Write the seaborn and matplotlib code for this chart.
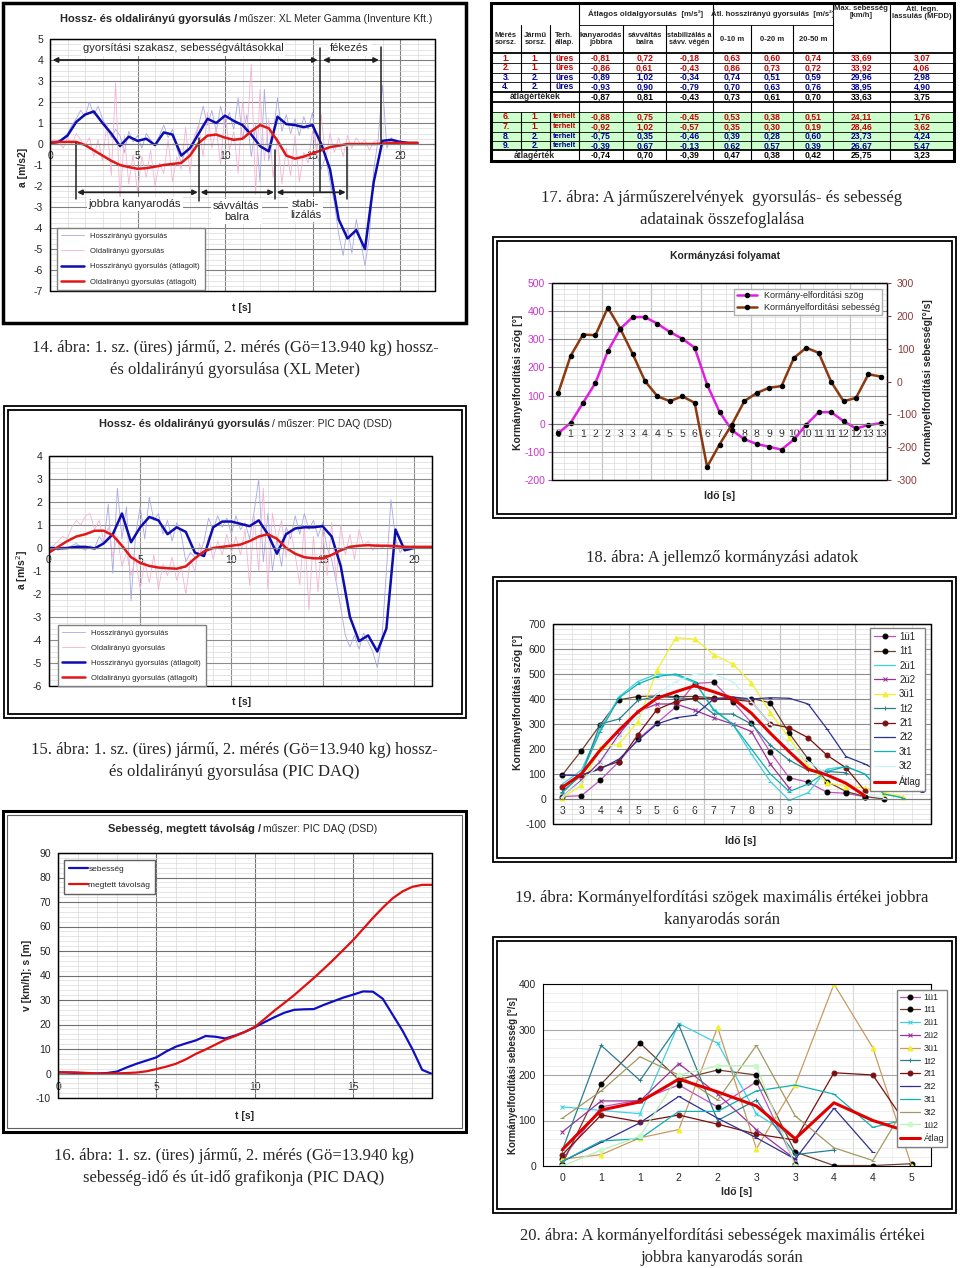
import numpy as np
import matplotlib
matplotlib.use('Agg')
import matplotlib.pyplot as plt
import seaborn as sns
from matplotlib.patches import Rectangle
from matplotlib.ticker import MultipleLocator

# --- adatok ---
# 14. ábra: XL Meter, 0.5 s-os simított görbék és 0.25 s-os nyers jelek
xl_long_avg = [0.05, 0.1, 0.4, 1.05, 1.4, 1.55, 1.0, 0.5, -0.1, 0.35, 0.15, 0.25, -0.05, 0.55, 0.45,
               -0.55, -0.2, 0.5, 1.2, 1.0, 1.35, 1.1, 0.9, 0.45, -0.1, -0.35, 1.3, 0.95, 0.9, 0.8,
               0.9, 0.0, -1.2, -3.6, -4.5, -4.1, -5.0, -1.8, 0.15, 0.2, 0.1, 0.05, 0.05]
xl_lat_avg = [0.05, 0.1, 0.1, 0.1, -0.05, -0.3, -0.55, -0.8, -1.0, -1.1, -1.18, -1.15, -1.08, -1.0,
              -0.95, -0.9, -0.55, 0.05, 0.4, 0.45, 0.3, 0.2, 0.25, 0.6, 0.9, 0.75, 0.15, -0.55, -0.7,
              -0.6, -0.45, -0.3, -0.15, -0.08, 0.0, 0.0, 0.0, 0.0, 0.02, 0.05, 0.05, 0.05, 0.05]
xl_long_raw = [0.1, 0.2, 0.1, 0.3, 0.5, 0.9, 1.2, 1.6, 1.3,
               2.0, 1.4, 1.8, 1.2, 0.8, 0.3, 0.7, 0.4,
               -0.4, 0.6, 0.1, 0.4, -0.2, 0.5, 0.2, -0.1,
               0.4, 0.9, 0.3, 0.7, -0.2, -0.9, -0.3, -0.6,
               0.1, 0.9, 1.8, 0.9, 1.6, 0.6, 1.8, 0.9,
               1.5, 0.7, 2.2, 0.2, 1.4, -0.6, 0.9, -1.8,
               2.6, -0.8, 0.4, 2.2, 0.6, 1.4, 0.5, 1.2,
               0.4, 1.3, 0.7, 1.5, -0.5, -1.2, -0.6, -1.8,
               -2.8, -4.3, -5.3, -4.0, -5.2, -3.6, -4.6, -5.8,
               -4.4, -1.2, 0.2, 2.8, -0.2, 0.3, 0.1, 0.0]
xl_lat_raw = [0.0, 0.1, 0.2, -0.2, 0.3, 0.0, 0.5, 0.2, -0.1,
              0.3, -0.6, 0.2, -0.8, 1.0, -1.5, 2.9, -2.8,
              0.4, -1.9, -0.5, -2.3, -0.6, -1.6, -0.3, -2.0,
              -0.9, -1.4, 0.2, -1.8, -0.6, -1.2, 0.8, -1.4,
              0.4, 0.9, -0.6, 1.5, -0.2, 0.8, -1.0, 1.6,
              -0.3, 0.6, -1.4, 2.0, 0.4, 3.8, -2.4, 2.6,
              -0.8, 1.2, -1.6, 0.3, -1.9, -0.2, -1.5, 0.4,
              -1.8, -0.4, -0.9, 0.6, -0.3, 1.4, -0.8, 0.5,
              -0.4, 0.3, -0.6, 0.4, -0.2, 0.3, 0.0, 0.2,
              -0.3, 0.1, 0.2, -0.1, 0.1, 0.0, 0.1, 0.0]

# 15. ábra: PIC DAQ
pic_long_avg = [0.0, -0.02, 0.0, 0.05, 0.05, -0.02, 0.2, 0.6, 1.5, 0.25, 0.9, 1.35, 1.2, 0.6, 0.9,
                0.7, -0.2, -0.35, 0.9, 1.15, 1.15, 1.05, 0.95, 1.2, 0.6, -0.25, 0.6, 0.85, 0.9, 0.9,
                0.95, 0.5, -0.8, -3.0, -4.05, -3.8, -4.5, -3.5, 0.8, -0.1, 0.0]
pic_lat_avg = [-0.2, 0.05, 0.3, 0.5, 0.6, 0.75, 0.75, 0.55, 0.1, -0.4, -0.65, -0.78, -0.85, -0.88,
               -0.9, -0.8, -0.45, -0.15, 0.0, 0.05, 0.1, 0.15, 0.3, 0.5, 0.6, 0.4, 0.0, -0.25, -0.4,
               -0.45, -0.45, -0.3, -0.1, 0.05, 0.1, 0.12, 0.1, 0.1, 0.08, 0.05, 0.05, 0.05, 0.05]
pic_long_raw = [0.0, 0.1, -0.1, 0.05, 0.0, 0.1, 0.2, 0.0, -0.1,
                0.1, 0.0, 0.5, 0.2, 1.9, -1.1, 2.6, 0.4,
                1.8, -2.3, 0.6, 1.8, 0.4, 2.2, 1.2, 1.5,
                0.6, 1.2, 0.3, 1.1, 0.6, -0.6, -0.2, -0.4,
                -0.3, 0.3, 1.3, 0.8, 1.4, 0.9, 1.3, 0.6,
                1.4, 0.8, 1.1, 0.4, 1.6, 3.0, -0.6, 1.5,
                -1.0, 0.4, -0.8, 0.9, 0.4, 1.4, 0.6, 1.5,
                0.8, 1.2, 0.5, 1.1, 0.0, -0.5, -1.5, -2.6,
                -3.8, -4.3, -3.8, -4.4, -3.7, -4.1, -4.5, -5.2,
                -4.0, -1.0, 2.1, 0.4, -0.2, 0.1, -0.1, 0.0]
pic_lat_raw = [-0.2, 0.1, 0.3, 0.5, 0.4, 0.9, 1.2, 1.0, 1.4,
               1.5, 0.8, 1.2, 0.3, 0.9, -0.4, 0.5, -0.8,
               -0.2, -1.2, -0.4, -1.8, -0.6, -1.5, -0.3, -1.8,
               -0.7, -1.2, -0.4, -1.4, -0.8, -2.0, -0.5, -1.0,
               0.2, -0.4, 0.5, -0.5, 0.3, -0.3, 0.6, -0.2,
               0.5, -0.3, 0.8, -1.6, 1.4, -1.0, 2.6, -1.8,
               1.5, 0.3, 1.2, -0.4, 0.8, -0.3, -1.6, 1.0,
               -2.7, 0.5, -1.9, 0.8, -1.2, 1.1, -1.4, 1.0,
               -0.3, 0.6, -0.5, 0.8, 0.1, 0.3, -0.1, 0.2,
               0.0, 0.1, 0.0, 0.1, 0.0, 0.1, 0.0, 0.1]

# 16. ábra: sebesség és megtett távolság (0.5 s-onként)
speed = [0.5, 0.4, 0.2, 0.1, 0.0, 0.2, 0.8, 2.5, 4.0, 5.3, 6.6, 9.0, 11.0, 12.3, 13.5, 15.3, 15.0,
         14.3, 15.5, 17.0, 18.9, 21.0, 23.0, 24.8, 26.0, 26.2, 26.3, 28.0, 29.5, 31.0, 32.2, 33.5,
         33.4, 30.5, 24.0, 17.5, 10.0, 1.5, -0.2]
distance = [0.5, 0.5, 0.4, 0.2, 0.0, 0.0, 0.05, 0.2, 0.4, 0.9, 1.8, 2.8, 4.0, 5.8, 8.0, 9.8, 11.8,
            13.8, 15.3, 17.0, 19.0, 22.3, 25.7, 28.8, 32.0, 35.5, 39.0, 42.7, 46.5, 50.5, 54.5, 59.0,
            63.5, 67.7, 71.5, 74.3, 76.2, 77.0, 77.0]

# 17. ábra: táblázat
tab_rows = [
    ['1.', '1.', 'üres', '-0,81', '0,72', '-0,18', '0,63', '0,60', '0,74', '33,69', '3,07'],
    ['2.', '1.', 'üres', '-0,86', '0,61', '-0,43', '0,86', '0,73', '0,72', '33,92', '4,06'],
    ['3.', '2.', 'üres', '-0,89', '1,02', '-0,34', '0,74', '0,51', '0,59', '29,96', '2,98'],
    ['4.', '2.', 'üres', '-0,93', '0,90', '-0,79', '0,70', '0,63', '0,76', '38,95', '4,90'],
    ['átlagértékek', '', '', '-0,87', '0,81', '-0,43', '0,73', '0,61', '0,70', '33,63', '3,75'],
    ['', '', '', '', '', '', '', '', '', '', ''],
    ['6.', '1.', 'terhelt', '-0,88', '0,75', '-0,45', '0,53', '0,38', '0,51', '24,11', '1,76'],
    ['7.', '1.', 'terhelt', '-0,92', '1,02', '-0,57', '0,35', '0,30', '0,19', '28,46', '3,62'],
    ['8.', '2.', 'terhelt', '-0,75', '0,35', '-0,46', '0,39', '0,28', '0,60', '23,73', '4,24'],
    ['9.', '2.', 'terhelt', '-0,39', '0,67', '-0,13', '0,62', '0,57', '0,39', '26,67', '5,47'],
    ['átlagérték', '', '', '-0,74', '0,70', '-0,39', '0,47', '0,38', '0,42', '25,75', '3,23'],
]
tab_colors = ['#cc0000', '#cc0000', '#000099', '#000099', 'black', 'black',
              '#cc0000', '#cc0000', '#000099', '#000099', 'black']
tab_head2 = ['Mérés\nsorsz.', 'Jármű\nsorsz.', 'Terh.\nállap.', 'kanyarodás\njobbra', 'sávváltás\nbalra',
             'stabilizálás a\nsávv. végén', '0-10 m', '0-20 m', '20-50 m', '', '']

# 18. ábra: kormányzási folyamat
p18_labels = ['0', '1', '1', '2', '2', '3', '3', '4', '4', '5', '5', '6', '6', '7', '7', '8', '8', '9',
              '9', '10', '10', '11', '11', '12', '12', '13', '13']
steer_angle = [-34, 3, 74, 145, 258, 337, 379, 379, 355, 326, 302, 270, 139, 42, -23, -55, -72, -82,
               -92, -56, -3, 41, 41, 9, -17, -5, 2]
steer_rate = [-35, 78, 143, 141, 225, 161, 84, 1, -45, -60, -45, -65, -260, -192, -131, -60, -35,
              -19, -14, 72, 103, 87, -1, -60, -50, 22, 15]

# 19. ábra: kormányelfordítási szögek
p19_labels = ['3', '3', '4', '4', '5', '5', '6', '6', '7', '7', '8', '8', '9', '', '', '', '', '', '', '']
ang_1u1 = [10, 13, 75, 150, 240, 304, 368, 462, 467, 390, 305, 187, 85, 67, 27, 23, 9]
ang_1t1 = [97, 193, 297, 397, 410, 412, 410, 410, 405, 400, 402, 385, 263, 160, 70, 30, 10, 0]
ang_2u1 = [60, 115, 280, 410, 470, 500, 495, 465, 360, 300, 180, 70, -5, 25, 120, 130, 100, 20, 5]
ang_2u2 = [10, 75, 150, 260, 350, 380, 380, 355, 325, 300, 270, 140, 43]
ang_3u1 = [5, 55, 205, 220, 310, 515, 645, 640, 578, 540, 465, 345, 245, 130, 65, 50, 45, 25, 10]
ang_1t2 = [30, 95, 300, 320, 395, 410, 405, 400, 340, 340, 300, 215, 155, 115, 110, 105]
ang_2t1 = [47, 95, 125, 150, 258, 358, 390, 403, 400, 398, 390, 300, 285, 245, 175, 125, 33]
ang_2t2 = [95, 95, 120, 160, 235, 300, 325, 335, 400, 408, 400, 405, 403, 380, 280, 170, 140, 100, 60, 30]
ang_3t1 = [25, 100, 270, 405, 460, 490, 500, 470, 355, 300, 200, 100, 30, 60, 110, 130, 100, 20, 5]
ang_3t2 = [10, 70, 140, 250, 330, 420, 470, 500, 500, 470, 390, 300, 220, 150, 100, 60, 20, 5]
ang_avg = [47, 100, 196, 276, 349, 403, 429, 453, 429, 403, 343, 263, 189, 119, 96, 63, 13]

# 20. ábra: kormányelfordítási sebességek
p20_labels = ['0', '1', '1', '2', '2', '3', '3', '4', '4', '5']
rate_1u1 = [15, 130, 145, 178, 130, 185, 5]
rate_1t1 = [5, 180, 270, 190, 211, 200, 31, 1, 1, 5]
rate_2u1 = [130, 122, 115, 313, 270, 115, 60]
rate_2u2 = [75, 143, 143, 225, 158, 80, 15]
rate_3u1 = [15, 25, 62, 80, 305, 38, 178, 400, 260, 0]
rate_1t2 = [35, 265, 188, 310, 100, 145, 25, 35]
rate_2t1 = [25, 112, 97, 112, 92, 70, 57, 205, 200, 75]
rate_2t2 = [10, 52, 95, 153, 105, 62, 15, 127, 30]
rate_3t1 = [10, 55, 60, 120, 120, 165, 178, 158, 85, 105]
rate_3t2 = [105, 165, 240, 200, 145, 265, 110, 40, 12, 155]
rate_1u2 = [0, 35, 65, 200, 220, 220, 0]
rate_avg = [36, 123, 141, 191, 163, 132, 60, 139, 100, 73]

# --- megjelenés ---
sns.set_style('white')
plt.rcParams['font.family'] = ['Liberation Sans', 'DejaVu Sans']
plt.rcParams['axes.unicode_minus'] = False

W, H = 960, 1268
fig = plt.figure(figsize=(9.6, 12.68), dpi=100)
SERIF = ['Liberation Serif', 'DejaVu Serif']


def box(x0, y0, x1, y1):
    return [x0 / W, 1 - y1 / H, (x1 - x0) / W, (y1 - y0) / H]


def frame(x0, y0, x1, y1, lw=1.5, ec='black'):
    fig.patches.append(Rectangle((x0 / W, 1 - y1 / H), (x1 - x0) / W, (y1 - y0) / H,
                                 transform=fig.transFigure, fill=False, lw=lw, ec=ec))


def ftext(x, y, s, **kw):
    fig.text(x / W, 1 - y / H, s, **kw)


def caption(xc, y, lines):
    for i, s in enumerate(lines):
        ftext(xc, y + 22 * i, s, family=SERIF, fontsize=12, ha='center', va='center')


def grid(ax, xmaj, xmin, ymaj, ymin, majc='#8c8c8c', minc='#dadada'):
    ax.xaxis.set_major_locator(MultipleLocator(xmaj))
    ax.xaxis.set_minor_locator(MultipleLocator(xmin))
    ax.yaxis.set_major_locator(MultipleLocator(ymaj))
    ax.yaxis.set_minor_locator(MultipleLocator(ymin))
    ax.grid(which='major', color=majc, lw=0.8)
    ax.grid(which='minor', color=minc, lw=0.5)
    ax.set_axisbelow(True)
    ax.tick_params(which='minor', length=0)
    ax.tick_params(labelsize=7.5, length=3, width=0.8, direction='out', pad=2)


def zero_axis(ax, pad=5):
    ax.spines['bottom'].set_position(('data', 0))
    ax.spines['bottom'].set_color('#7a7a7a')
    ax.tick_params(axis='x', length=0, pad=pad)
    ax.add_patch(Rectangle((0, 0), 1, 1, transform=ax.transAxes, fill=False, ec='black',
                           lw=1.0, clip_on=False, zorder=5))


def line(ax, x, y, **kw):
    sns.lineplot(x=x, y=y, ax=ax, estimator=None, sort=False, **kw)


def title2(xsplit, y, bold, normal, size=8):
    ftext(xsplit, y, bold, fontsize=size, fontweight='bold', ha='right', va='center')
    ftext(xsplit + 2, y, normal, fontsize=size - 0.5, ha='left', va='center')


LONG_RAW, LAT_RAW = '#a9a9e3', '#f4b3d3'
BLUE, RED = '#0c0cb0', '#e01818'

# ================= 14. ábra =================
frame(3, 3, 466, 323, lw=2.5)
ax = fig.add_axes(box(50, 39, 435, 291))
line(ax, np.arange(len(xl_long_raw)) * 0.25, xl_long_raw, color=LONG_RAW, lw=0.6, label='Hosszirányú gyorsulás')
line(ax, np.arange(len(xl_lat_raw)) * 0.25, xl_lat_raw, color=LAT_RAW, lw=0.6, label='Oldalirányú gyorsulás')
line(ax, np.arange(len(xl_long_avg)) * 0.5, xl_long_avg, color=BLUE, lw=1.8, label='Hosszirányú gyorsulás (átlagolt)')
line(ax, np.arange(len(xl_lat_avg)) * 0.5, xl_lat_avg, color=RED, lw=1.8, label='Oldalirányú gyorsulás (átlagolt)')
ax.set_xlim(0, 22)
ax.set_ylim(-7, 5)
grid(ax, 5, 1, 1, 0.25, majc='#808080')
ax.set_xticks([0, 5, 10, 15, 20])
zero_axis(ax)
ax.set_xlabel('')
ax.set_ylabel('')

arr = dict(arrowstyle='<|-|>', color='#202020', lw=1.3, mutation_scale=7, shrinkA=0, shrinkB=0)
for x0, x1, y in [(0.15, 15.3, 4.0), (15.6, 18.8, 4.0), (1.55, 8.45, -2.3), (8.6, 12.8, -2.3), (12.95, 16.9, -2.3)]:
    ax.annotate('', xy=(x1, y), xytext=(x0, y), arrowprops=arr)
for x, y0, y1 in [(15.4, 4.55, -2.3), (18.9, 4.6, -0.1), (1.5, 0.05, -2.6), (8.5, 0.3, -2.7),
                  (12.85, -0.3, -2.6), (16.95, -0.15, -2.6)]:
    ax.plot([x, x], [y0, y1], color='#202020', lw=1.1)
wb = dict(fc='white', ec='none', pad=1.5)
ax.text(7.6, 4.55, 'gyorsítási szakasz, sebességváltásokkal', fontsize=8, ha='center', va='center', bbox=wb)
ax.text(17.1, 4.55, 'fékezés', fontsize=8, ha='center', va='center', bbox=wb)
ax.text(4.85, -2.85, 'jobbra kanyarodás', fontsize=8, ha='center', va='center', bbox=wb)
ax.text(10.65, -3.2, 'sávváltás\nbalra', fontsize=8, ha='center', va='center', bbox=wb, linespacing=1.1)
ax.text(14.6, -3.1, 'stabi-\nlizálás', fontsize=8, ha='center', va='center', bbox=wb, linespacing=1.1)
ax.legend(loc='upper left', bbox_to_anchor=(53 / W, 1 - 224 / H), bbox_transform=fig.transFigure,
          fontsize=5.5, frameon=True, fancybox=False, edgecolor='#808080', framealpha=1,
          handlelength=3, labelspacing=1.05, borderpad=0.6)
title2(237, 19, 'Hossz- és oldalirányú gyorsulás /', 'műszer: XL Meter Gamma (Inventure Kft.)')
ftext(23, 167, 'a [m/s2]', fontsize=7.5, fontweight='bold', rotation=90, ha='center', va='center')
ftext(242, 308, 't [s]', fontsize=7.5, fontweight='bold', ha='center', va='center')
caption(235, 348, ['14. ábra: 1. sz. (üres) jármű, 2. mérés (Gö=13.940 kg) hossz-',
                   'és oldalirányú gyorsulása (XL Meter)'])

# ================= 17. ábra (táblázat) =================
tax = fig.add_axes(box(488, 1, 957, 165))
tax.set_xlim(488, 957)
tax.set_ylim(165, 1)
tax.axis('off')
cx = [490.7, 521.3, 549.7, 578.7, 623, 666.3, 713, 751.3, 793, 833, 889.7, 954]
ry = [3.3, 25, 53.3, 63.3, 72.7, 82, 91.7, 101.7, 111.7, 122, 131.7, 141, 150, 160.7]
tax.add_patch(Rectangle((cx[0], ry[8]), cx[-1] - cx[0], ry[12] - ry[8], fc='#ccffcc', ec='none'))
for y in ry[1:-1]:
    x0 = cx[0] if y != ry[1] else cx[3]
    x1 = cx[-1] if y != ry[1] else cx[9]
    lw = 1.3 if y in (ry[2], ry[6], ry[7], ry[12]) else 0.6
    tax.plot([x0, x1], [y, y], color='black', lw=lw)
for i, x in enumerate(cx[1:-1], start=1):
    if i in (1, 2):
        segs = [(ry[1], ry[6]), (ry[8], ry[12])]
    elif i in (3, 6, 9, 10):
        segs = [(ry[0], ry[-1])]
    else:
        segs = [(ry[1], ry[-1])]
    for y0, y1 in segs:
        tax.plot([x, x], [y0, y1], color='black', lw=0.8)
tax.add_patch(Rectangle((cx[0], ry[0]), cx[-1] - cx[0], ry[-1] - ry[0], fill=False, ec='black', lw=2.2))
hfs, tfs = 5.5, 6.2
tax.text((cx[3] + cx[6]) / 2, (ry[0] + ry[1]) / 2, 'Átlagos oldalgyorsulás  [m/s²]', fontsize=5.8,
         fontweight='bold', ha='center', va='center')
tax.text((cx[6] + cx[9]) / 2, (ry[0] + ry[1]) / 2, 'Átl. hosszirányú gyorsulás  [m/s²]', fontsize=5.6,
         fontweight='bold', ha='center', va='center')
tax.text((cx[9] + cx[10]) / 2, 12, 'Max. sebesség\n[km/h]', fontsize=hfs,
         fontweight='bold', ha='center', va='center', linespacing=1.0)
tax.text((cx[10] + cx[11]) / 2, 12, 'Átl. legn.\nlassulás (MFDD)', fontsize=hfs,
         fontweight='bold', ha='center', va='center', linespacing=1.0)
for j, s in enumerate(tab_head2):
    tax.text((cx[j] + cx[j + 1]) / 2, (ry[1] + ry[2]) / 2, s, fontsize=hfs if j != 5 else 5.2,
             fontweight='bold', ha='center', va='center', linespacing=1.1)
for i, row in enumerate(tab_rows):
    yc = (ry[2 + i] + ry[3 + i]) / 2
    for j, s in enumerate(row):
        if not s:
            continue
        if s.startswith('átlag'):
            tax.text((cx[0] + cx[3]) / 2, yc, s, fontsize=tfs, fontweight='bold', ha='center', va='center')
            continue
        xc = (cx[j] + cx[j + 1]) / 2
        fs = 5.4 if s == 'terhelt' else tfs
        tax.text(xc, yc, s, fontsize=fs, fontweight='bold', color=tab_colors[i], ha='center', va='center')
caption(722, 198, ['17. ábra: A járműszerelvények  gyorsulás- és sebesség',
                   'adatainak összefoglalása'])

# ================= 18. ábra =================
frame(493, 237, 956, 518, lw=1.3)
frame(497, 241, 952, 514, lw=1.3)
ax = fig.add_axes(box(552, 283, 887, 480))
ax2 = ax.twinx()
x18 = np.arange(len(steer_angle))
line(ax, x18, steer_angle, color='#e020e0', lw=1.8, marker='o', ms=3.2, mfc='black', mec='black',
     label='Kormány-elforditási szög')
line(ax2, x18, steer_rate, color='#8a3a10', lw=1.8, marker='o', ms=3.2, mfc='black', mec='black',
     label='Kormányelforditási sebesség')
ax.set_xlim(-0.5, 26.5)
ax.set_ylim(-200, 500)
ax2.set_ylim(-300, 300)
grid(ax, 4, 1, 100, 20)
ax.set_xticks(x18, minor=False)
ax.set_xticklabels(p18_labels)
ax.grid(False, axis='x', which='major')
ax.xaxis.set_minor_locator(MultipleLocator(1, offset=0.5))
ax.grid(True, axis='x', which='minor', color='#dadada', lw=0.5)
for xv in [3.5, 7.5, 11.5, 15.5, 19.5, 23.5]:
    ax.axvline(xv, color='#8c8c8c', lw=0.8, zorder=0)
zero_axis(ax, pad=4)
ax.tick_params(axis='y', colors='#cc33cc', labelcolor='#cc33cc')
ax2.yaxis.set_major_locator(MultipleLocator(100))
ax2.tick_params(axis='y', labelsize=7.5, colors='#8a3a3a', length=3, pad=4)
for sp in ax2.spines.values():
    sp.set_visible(False)
ax.set_ylabel('')
ax2.set_ylabel('')
h1, l1 = ax.get_legend_handles_labels()
h2, l2 = ax2.get_legend_handles_labels()
if ax.get_legend():
    ax.get_legend().remove()
if ax2.get_legend():
    ax2.get_legend().remove()
ax2.legend(h1 + h2, l1 + l2, loc='upper right', bbox_to_anchor=(887 / W, 1 - 284 / H),
           bbox_transform=fig.transFigure, fontsize=6.5, frameon=True, fancybox=False,
           edgecolor='#b0b0b0', framealpha=1, handlelength=2.2, labelspacing=0.3, borderpad=0.3)
ftext(725, 256, 'Kormányzási folyamat', fontsize=7.5, fontweight='bold', ha='center', va='center')
ftext(518, 382, 'Kormányelfordítási szög [°]', fontsize=7.5, fontweight='bold', rotation=90,
      ha='center', va='center')
ftext(928, 382, 'Kormányelfordítási sebesség[°/s]', fontsize=7.5, fontweight='bold', rotation=90,
      ha='center', va='center')
ftext(720, 496, 'Idő [s]', fontsize=7.5, fontweight='bold', ha='center', va='center')
caption(722, 558, ['18. ábra: A jellemző kormányzási adatok'])

# ================= 15. ábra =================
frame(4, 406, 466, 718, lw=1.3)
frame(8, 410, 462, 714, lw=1.3)
ax = fig.add_axes(box(49, 456, 432, 686))
line(ax, np.arange(len(pic_long_raw)) * 0.25, pic_long_raw, color=LONG_RAW, lw=0.6, label='Hosszirányú gyorsulás')
line(ax, np.arange(len(pic_lat_raw)) * 0.25, pic_lat_raw, color=LAT_RAW, lw=0.6, label='Oldalirányú gyorsulás')
line(ax, np.arange(len(pic_long_avg)) * 0.5, pic_long_avg, color=BLUE, lw=1.8, label='Hosszirányú gyorsulás (átlagolt)')
line(ax, np.arange(len(pic_lat_avg)) * 0.5, pic_lat_avg, color=RED, lw=1.8, label='Oldalirányú gyorsulás (átlagolt)')
ax.set_xlim(0, 21)
ax.set_ylim(-6, 4)
grid(ax, 5, 1, 1, 0.25)
ax.set_xticks([0, 5, 10, 15, 20])
zero_axis(ax)
ax.set_ylabel('')
ax.legend(loc='upper left', bbox_to_anchor=(54 / W, 1 - 621 / H), bbox_transform=fig.transFigure,
          fontsize=5.5, frameon=True, fancybox=False, edgecolor='#808080', framealpha=1,
          handlelength=3, labelspacing=1.0, borderpad=0.6)
title2(270, 424, 'Hossz- és oldalirányú gyorsulás', '/ műszer: PIC DAQ (DSD)')
ftext(22, 570, 'a [m/s$^2$]', fontsize=7.5, fontweight='bold', rotation=90, ha='center', va='center')
ftext(242, 702, 't [s]', fontsize=7.5, fontweight='bold', ha='center', va='center')
caption(234, 750, ['15. ábra: 1. sz. (üres) jármű, 2. mérés (Gö=13.940 kg) hossz-',
                   'és oldalirányú gyorsulása (PIC DAQ)'])

# ================= 19. ábra =================
frame(493, 577, 956, 862, lw=1.3)
frame(497, 581, 952, 858, lw=1.3)
ax = fig.add_axes(box(553, 624, 931, 824))
s19 = [('1ü1', ang_1u1, '#c050c0', 'o', 'black'), ('1t1', ang_1t1, '#704030', 'o', 'black'),
       ('2ü1', ang_2u1, '#40d0e0', '_', '#40d0e0'), ('2ü2', ang_2u2, '#993399', 'x', '#993399'),
       ('3ü1', ang_3u1, '#f0f030', '^', '#f0f030'), ('1t2', ang_1t2, '#2a7f8f', '+', '#2a7f8f'),
       ('2t1', ang_2t1, '#7a1010', 'o', '#7a1010'), ('2t2', ang_2t2, '#303090', '_', '#303090'),
       ('3t1', ang_3t1, '#10b0b0', '_', '#10b0b0'), ('3t2', ang_3t2, '#c8f4f8', '_', '#c8f4f8')]
for name, vals, col, mk, mc in s19:
    line(ax, np.arange(len(vals)), vals, color=col, lw=0.9, marker=mk, ms=3.5, mfc=mc, mec=mc, label=name)
line(ax, np.arange(len(ang_avg)), ang_avg, color='#e00000', lw=2.2, label='Átlag')
ax.set_xlim(-0.5, 19.5)
ax.set_ylim(-100, 700)
grid(ax, 4, 1, 100, 20)
ax.set_xticks(np.arange(len(p19_labels)))
ax.set_xticklabels(p19_labels)
ax.grid(False, axis='x', which='major')
ax.xaxis.set_minor_locator(MultipleLocator(1, offset=0.5))
ax.grid(True, axis='x', which='minor', color='#dadada', lw=0.5)
for xv in [3.5, 7.5, 11.5, 15.5]:
    ax.axvline(xv, color='#8c8c8c', lw=0.8, zorder=0)
zero_axis(ax)
ax.set_ylabel('')
ax.legend(loc='upper right', bbox_to_anchor=(930 / W, 1 - 623 / H), bbox_transform=fig.transFigure,
          fontsize=7, frameon=True, fancybox=False, edgecolor='#808080', framealpha=1,
          handlelength=2.2, labelspacing=0.45, borderpad=0.4, handletextpad=0.4)
ftext(518, 702, 'Kormányelfordítási szög [°]', fontsize=7.5, fontweight='bold', rotation=90,
      ha='center', va='center')
ftext(741, 841, 'Idő [s]', fontsize=7.5, fontweight='bold', ha='center', va='center')
caption(722, 898, ['19. ábra: Kormányelfordítási szögek maximális értékei jobbra',
                   'kanyarodás során'])

# ================= 16. ábra =================
frame(3, 811, 466, 1132, lw=2.2)
frame(7, 815, 462, 1128, lw=0.8, ec='#606060')
ax = fig.add_axes(box(58, 853, 432, 1098))
t16 = np.arange(len(speed)) * 0.5
line(ax, t16, speed, color='#1010c0', lw=1.6, label='sebesség')
line(ax, t16, distance, color='#e01010', lw=1.6, label='megtett távolság')
ax.set_xlim(0, 19)
ax.set_ylim(-10, 90)
grid(ax, 5, 1, 10, 2, majc='#707070')
zero_axis(ax, pad=6)
ax.set_ylabel('')
ax.legend(loc='upper left', bbox_to_anchor=(60 / W, 1 - 856 / H), bbox_transform=fig.transFigure,
          fontsize=6, frameon=True, fancybox=False, edgecolor='#606060', framealpha=1,
          handlelength=2.2, labelspacing=1.0, borderpad=0.6, handletextpad=0.1)
title2(261, 829, 'Sebesség, megtett távolság /', 'műszer: PIC DAQ (DSD)')
ftext(27, 975, 'v [km/h]; s [m]', fontsize=7.5, fontweight='bold', rotation=90, ha='center', va='center')
ftext(245, 1116, 't [s]', fontsize=7.5, fontweight='bold', ha='center', va='center')
caption(234, 1156, ['16. ábra: 1. sz. (üres) jármű, 2. mérés (Gö=13.940 kg)',
                    'sebesség-idő és út-idő grafikonja (PIC DAQ)'])

# ================= 20. ábra =================
frame(493, 937, 956, 1213, lw=1.3)
frame(497, 941, 952, 1209, lw=1.3)
ax = fig.add_axes(box(543, 984, 931, 1166))
s20 = [('1ü1', rate_1u1, '#c050c0', 'o', 'black'), ('1t1', rate_1t1, '#704030', 'o', 'black'),
       ('2ü1', rate_2u1, '#40d0e0', 'x', '#40d0e0'), ('2ü2', rate_2u2, '#993399', 'x', '#993399'),
       ('3ü1', rate_3u1, '#c89a60', '^', '#f0f030'), ('1t2', rate_1t2, '#2a7f8f', '+', '#2a7f8f'),
       ('2t1', rate_2t1, '#7a1010', 'o', '#7a1010'), ('2t2', rate_2t2, '#303090', '_', '#303090'),
       ('3t1', rate_3t1, '#10b0b0', '_', '#10b0b0'), ('3t2', rate_3t2, '#a09a60', '_', '#a09a60'),
       ('1ü2', rate_1u2, '#b8f0b8', 'o', '#c8f8c8')]
for name, vals, col, mk, mc in s20:
    line(ax, np.arange(len(vals)), vals, color=col, lw=0.9, marker=mk, ms=3.5, mfc=mc, mec=mc, label=name)
line(ax, np.arange(len(rate_avg)), rate_avg, color='#e00000', lw=2.2, label='Átlag')
ax.set_xlim(-0.5, 9.5)
ax.set_ylim(0, 400)
grid(ax, 4, 1, 100, 20, majc='#a8a8a8', minc='#e6e6e6')
ax.set_xticks(np.arange(len(p20_labels)))
ax.set_xticklabels(p20_labels)
ax.grid(False, axis='x', which='major')
ax.xaxis.set_minor_locator(MultipleLocator(1, offset=0.5))
ax.grid(True, axis='x', which='minor', color='#ececec', lw=0.5)
for xv in [3.5, 7.5]:
    ax.axvline(xv, color='#b0b0b0', lw=0.8, zorder=0)
ax.tick_params(axis='x', length=0, pad=5)
for sp in ax.spines.values():
    sp.set_color('black')
ax.set_ylabel('')
ax.legend(loc='upper right', bbox_to_anchor=(952 / W, 1 - 985 / H), bbox_transform=fig.transFigure,
          fontsize=6.5, frameon=True, fancybox=False, edgecolor='#808080', framealpha=1,
          handlelength=2.2, labelspacing=0.42, borderpad=0.35, handletextpad=0.4)
ftext(513, 1075, 'Kormányelfordítási sebesség [°/s]', fontsize=7, fontweight='bold', rotation=90,
      ha='center', va='center')
ftext(737, 1192, 'Idő [s]', fontsize=7.5, fontweight='bold', ha='center', va='center')
caption(722, 1236, ['20. ábra: A kormányelfordítási sebességek maximális értékei',
                    'jobbra kanyarodás során'])

fig.savefig('out.png', dpi=100, facecolor='white')
